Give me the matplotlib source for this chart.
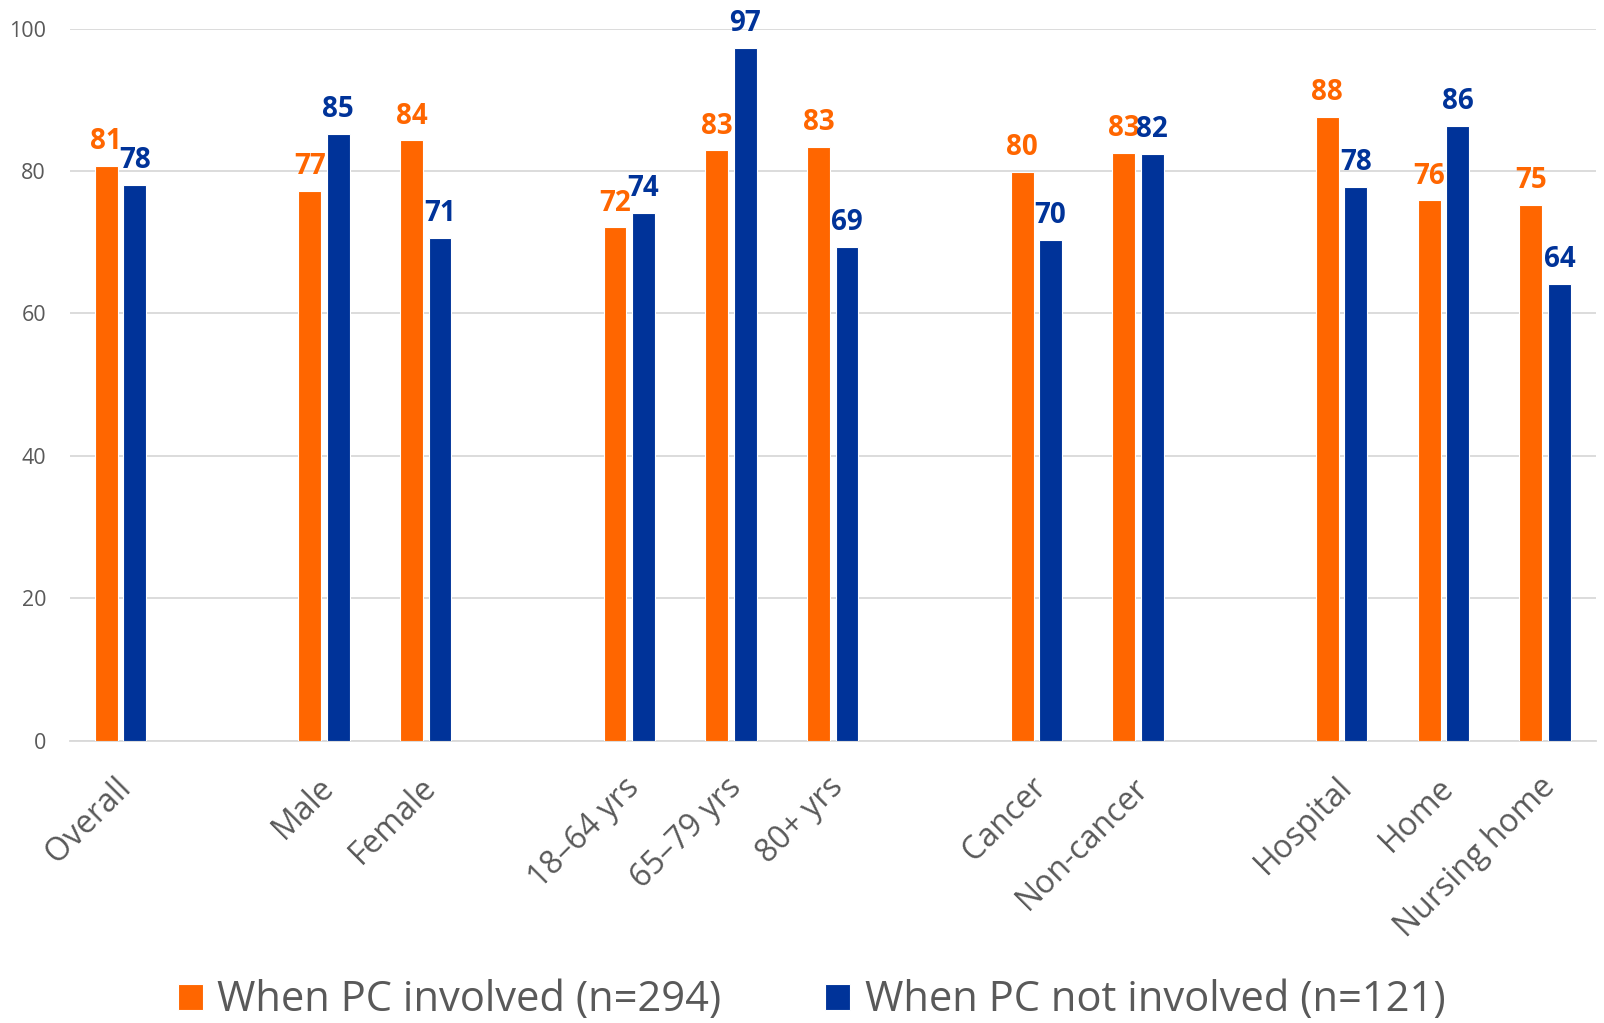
import matplotlib
matplotlib.use("Agg")
import matplotlib.pyplot as plt
import matplotlib.transforms as mtransforms
import numpy as np

categories = ["Overall", "", "Male", "Female", "", "18\u201364 yrs", "65\u201379 yrs", "80+ yrs", "",
              "Cancer", "Non-cancer", "", "Hospital", "Home", "Nursing home"]
pc_involved = [80.7, None, 77.2, 84.3, None, 72.1, 82.9, 83.4, None, 79.9, 82.6, None, 87.6, 75.9, 75.3]
pc_not_involved = [78.1, None, 85.2, 70.6, None, 74.1, 97.3, 69.4, None, 70.3, 82.4, None, 77.8, 86.3, 64.2]
series_names = ["When PC involved (n=294)", "When PC not involved (n=121)"]
yticks = [0, 20, 40, 60, 80, 100]

orange = "#FF6600"
blue = "#003399"
gray = "#595959"
font = ["Open Sans", "DejaVu Sans"]

fig = plt.figure(figsize=(16.04, 10.23), dpi=100)
ax = fig.add_axes([0.0434, 0.276, 0.9516, 0.696])

x = np.arange(len(categories))
w = 0.225
off = 0.14
idx = [i for i, v in enumerate(pc_involved) if v is not None]
a = np.array([pc_involved[i] for i in idx])
b = np.array([pc_not_involved[i] for i in idx])
xi = x[idx]
b1 = ax.bar(xi - off, a, w, color=orange, edgecolor="white", linewidth=0.8, label=series_names[0], zorder=3)
b2 = ax.bar(xi + off, b, w, color=blue, edgecolor="white", linewidth=0.8, label=series_names[1], zorder=3)

for bars, vals, col in [(b1, a, orange), (b2, b, blue)]:
    for r, v in zip(bars, vals):
        ax.annotate(f"{int(v + 0.5):d}", (r.get_x() + r.get_width() / 2, v), xytext=(0, 7),
                    textcoords="offset points", ha="center", va="bottom", color=col,
                    fontsize=20, fontweight="bold", family=font, annotation_clip=False)

ax.set_xlim(-0.5, len(categories) - 0.5)
ax.set_ylim(0, 100)
ax.set_yticks(yticks)
ax.set_yticklabels([str(t) for t in yticks], fontsize=15.5, color=gray, family=font)
ax.tick_params(axis="y", length=0, pad=17)
ax.tick_params(axis="x", length=0, pad=6)
ax.set_xticks(x)
ax.set_xticklabels(categories, rotation=45, ha="right", rotation_mode="anchor",
                   fontsize=23, color=gray, family=font)
ax.grid(axis="y", color="#D9D9D9", linewidth=1.3, zorder=0)
for s in ["top", "right", "left"]:
    ax.spines[s].set_visible(False)
ax.spines["bottom"].set_color("#D9D9D9")
ax.spines["bottom"].set_linewidth(1.3)

shift = mtransforms.ScaledTranslation(-6 / 100, -22 / 100, fig.dpi_scale_trans)
for lab in ax.get_xticklabels():
    lab.set_transform(lab.get_transform() + shift)

leg = fig.legend(handles=[b1, b2], labels=series_names, loc="center", bbox_to_anchor=(0.506, 0.022),
                 ncol=2, frameon=False, prop={"family": font, "size": 30},
                 handlelength=0.6, handleheight=0.6, handletextpad=0.35, columnspacing=2.5)
for t in leg.get_texts():
    t.set_color(gray)

fig.savefig("out.png", dpi=100, facecolor="white")
